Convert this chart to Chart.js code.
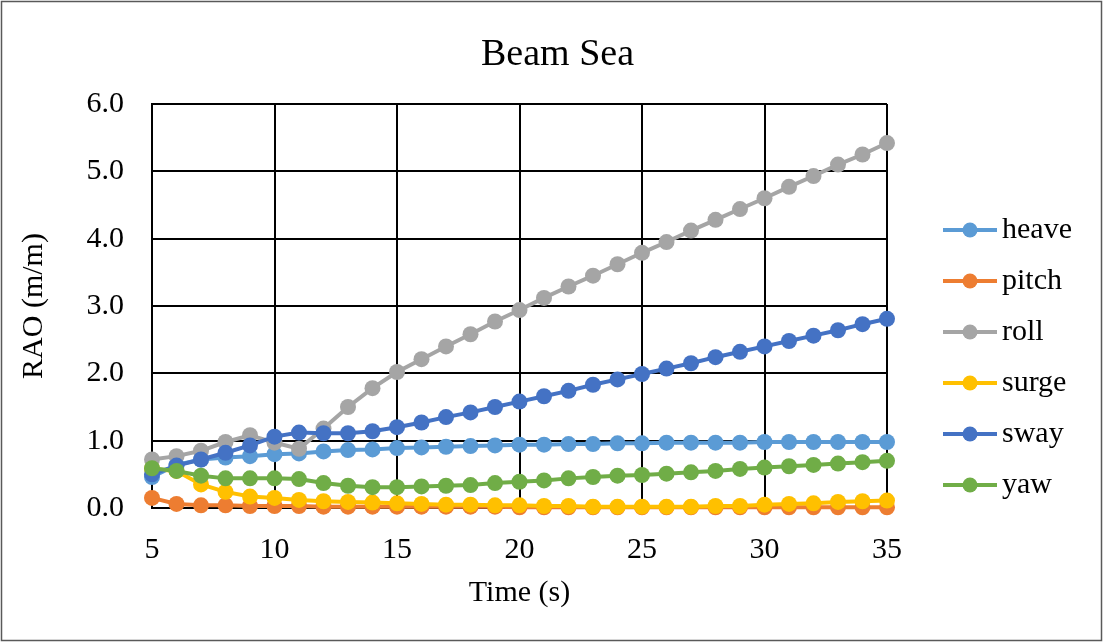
<!DOCTYPE html>
<html>
<head>
<meta charset="utf-8">
<title>Beam Sea RAO</title>
<script src="https://cdn.jsdelivr.net/npm/chart.js@4.4.1/dist/chart.umd.min.js"></script>
<style>
    body { margin: 0; background: #fff; }
    #wrap { width: 1103px; height: 642px; }
</style>
</head>
<body>
<div id="wrap"><canvas id="raoChart" width="1103" height="642"></canvas></div>
<script>
// wave period (s)
const periods = [5, 6, 7, 8, 9, 10, 11, 12, 13, 14, 15, 16, 17, 18, 19, 20,
                 21, 22, 23, 24, 25, 26, 27, 28, 29, 30, 31, 32, 33, 34, 35];

const heave = [0.46, 0.64, 0.72, 0.75, 0.77, 0.80, 0.81, 0.84, 0.86, 0.87, 0.89, 0.90, 0.91, 0.92, 0.93, 0.94,
               0.94, 0.95, 0.95, 0.96, 0.96, 0.97, 0.97, 0.97, 0.97, 0.98, 0.98, 0.98, 0.98, 0.98, 0.98];
const pitch = [0.15, 0.06, 0.04, 0.04, 0.03, 0.03, 0.03, 0.02, 0.02, 0.02, 0.02, 0.02, 0.02, 0.02, 0.02, 0.01,
               0.01, 0.01, 0.01, 0.01, 0.01, 0.01, 0.01, 0.01, 0.01, 0.01, 0.01, 0.01, 0.01, 0.01, 0.01];
const roll  = [0.72, 0.77, 0.85, 0.98, 1.08, 0.97, 0.88, 1.18, 1.50, 1.78, 2.02, 2.21, 2.40, 2.58, 2.77, 2.94,
               3.12, 3.29, 3.45, 3.62, 3.79, 3.95, 4.12, 4.28, 4.44, 4.60, 4.77, 4.93, 5.10, 5.25, 5.42];
const surge = [0.58, 0.55, 0.35, 0.24, 0.17, 0.15, 0.12, 0.10, 0.09, 0.08, 0.07, 0.06, 0.05, 0.05, 0.04, 0.04,
               0.03, 0.03, 0.02, 0.02, 0.02, 0.02, 0.02, 0.03, 0.03, 0.05, 0.06, 0.07, 0.09, 0.10, 0.11];
const sway  = [0.50, 0.63, 0.72, 0.82, 0.93, 1.06, 1.12, 1.11, 1.11, 1.14, 1.20, 1.27, 1.35, 1.42, 1.50, 1.58,
               1.66, 1.74, 1.83, 1.91, 1.99, 2.07, 2.15, 2.24, 2.32, 2.40, 2.48, 2.56, 2.64, 2.73, 2.81];
const yaw   = [0.59, 0.55, 0.48, 0.44, 0.44, 0.44, 0.43, 0.37, 0.33, 0.31, 0.31, 0.32, 0.33, 0.34, 0.37, 0.39,
               0.41, 0.44, 0.46, 0.48, 0.49, 0.51, 0.53, 0.55, 0.58, 0.60, 0.62, 0.64, 0.66, 0.68, 0.70];

const seriesNames = ['heave', 'pitch', 'roll', 'surge', 'sway', 'yaw'];
const seriesData = [heave, pitch, roll, surge, sway, yaw];
const seriesColors = ['#5B9BD5', '#ED7D31', '#A5A5A5', '#FFC000', '#4472C4', '#70AD47'];

const chartTitle = 'Beam Sea';
const serif = "'Liberation Serif', 'Times New Roman', serif";

// white page, thin frame and the centred title
const framePlugin = {
    id: 'frame',
    beforeDraw(chart) {
        const c = chart.ctx;
        c.save();
        c.fillStyle = '#fff';
        c.fillRect(0, 0, chart.width, chart.height);
        c.strokeStyle = '#595959';
        c.lineWidth = 1.5;
        c.strokeRect(1.5, 1.5, chart.width - 3, chart.height - 3);
        c.fillStyle = '#000';
        c.font = '38px ' + serif;
        c.textAlign = 'center';
        c.textBaseline = 'middle';
        c.fillText(chartTitle, chart.width / 2 + 6, 55);
        c.restore();
    }
};

// legend with line + marker swatches, stacked to the right of the plot
const lineLegend = {
    id: 'lineLegend',
    afterDraw(chart) {
        const c = chart.ctx;
        const x0 = chart.chartArea.right + 56;
        const y0 = 230;
        const step = 51;
        c.save();
        chart.data.datasets.forEach((ds, i) => {
            const y = y0 + i * step;
            c.strokeStyle = ds.borderColor;
            c.lineWidth = 4;
            c.beginPath();
            c.moveTo(x0, y);
            c.lineTo(x0 + 54, y);
            c.stroke();
            c.fillStyle = ds.borderColor;
            c.beginPath();
            c.arc(x0 + 27, y, 7.5, 0, Math.PI * 2);
            c.fill();
            c.fillStyle = '#000';
            c.font = '30px ' + serif;
            c.textBaseline = 'middle';
            c.fillText(ds.label, x0 + 59, y);
        });
        c.restore();
    }
};

const datasets = seriesNames.map((name, i) => ({
    label: name,
    data: periods.map((t, k) => ({ x: t, y: seriesData[i][k] })),
    borderColor: seriesColors[i],
    backgroundColor: seriesColors[i],
    borderWidth: 4,
    pointRadius: 8,
    pointBorderWidth: 0,
    pointHoverRadius: 8,
    tension: 0,
    clip: false,
    order: seriesNames.length - i   // later series drawn on top
}));

new Chart(document.getElementById('raoChart').getContext('2d'), {
    type: 'line',
    data: { datasets: datasets },
    options: {
        responsive: false,
        animation: false,
        layout: { padding: { left: 0, right: 216, top: 104, bottom: 0 } },
        plugins: {
            legend: { display: false },
            tooltip: { enabled: false },
            title: { display: false }
        },
        scales: {
            x: {
                type: 'linear',
                min: 5,
                max: 35,
                ticks: { stepSize: 5, color: '#000', padding: 24, font: { family: serif, size: 30 } },
                grid: { color: '#000', lineWidth: 2, drawTicks: false },
                border: { color: '#000', width: 2 },
                title: {
                    display: true,
                    text: 'Time (s)',
                    color: '#000',
                    font: { family: serif, size: 30 },
                    padding: { top: 37, bottom: 31 }
                },
                afterFit(scale) { scale.height = 134; }
            },
            y: {
                min: 0,
                max: 6,
                ticks: {
                    stepSize: 1,
                    color: '#000',
                    padding: 28,
                    font: { family: serif, size: 30 },
                    callback: v => v.toFixed(1)
                },
                grid: { color: '#000', lineWidth: 2, drawTicks: false },
                border: { color: '#000', width: 2 },
                title: {
                    display: true,
                    text: 'RAO (m/m)',
                    color: '#000',
                    font: { family: serif, size: 30 },
                    padding: { top: 16, bottom: 0 }
                },
                afterFit(scale) { scale.width = 152; }
            }
        }
    },
    plugins: [framePlugin, lineLegend]
});
</script>
</body>
</html>
